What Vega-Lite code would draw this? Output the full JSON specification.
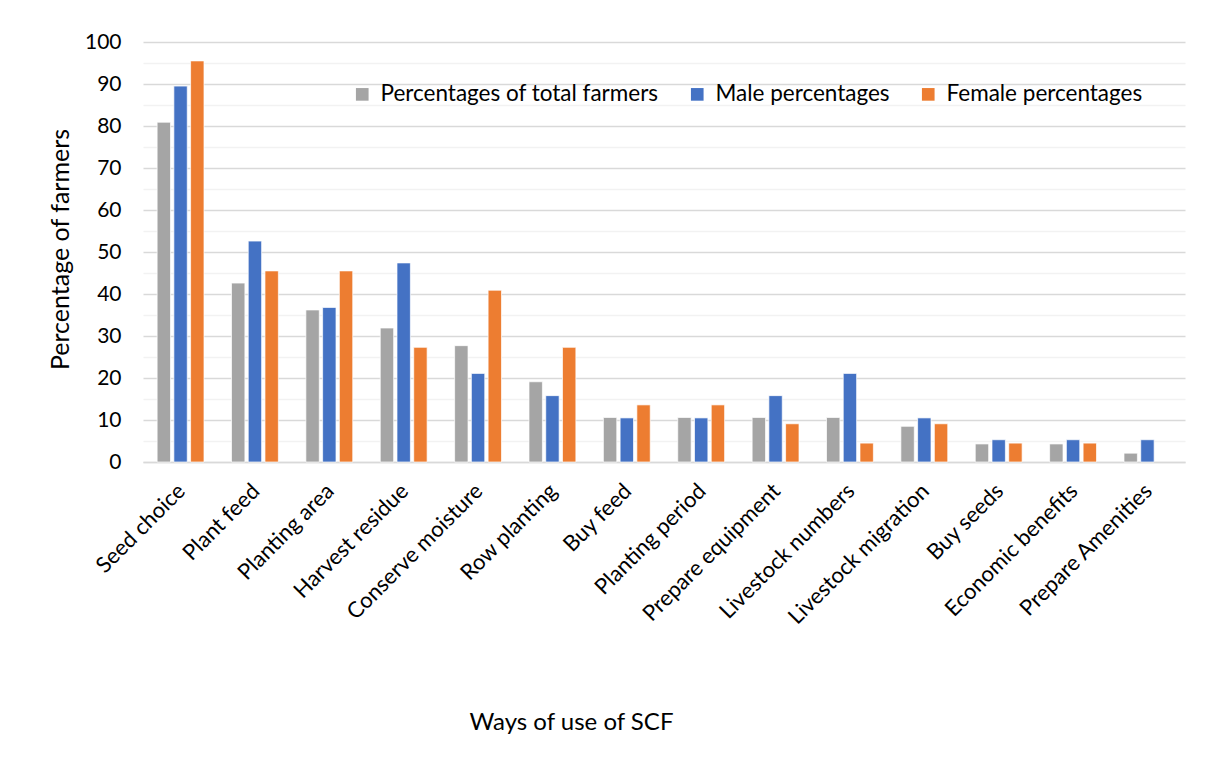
{
  "$schema": "https://vega.github.io/schema/vega-lite/v6.json",
  "autosize": "none",
  "width": 1042,
  "height": 420,
  "padding": {"left": 143, "top": 42, "right": 23, "bottom": 302},
  "background": "white",
  "config": {
    "font": "Lato",
    "view": {"stroke": null},
    "axis": {"labelFont": "Lato", "titleFont": "Lato", "labelColor": "#000000", "titleColor": "#000000", "titleFontWeight": "normal"}
  },
  "data": {"values": [
    {"way": "Seed choice", "series": "Percentages of total farmers", "value": 80.9},
    {"way": "Seed choice", "series": "Male percentages", "value": 89.5},
    {"way": "Seed choice", "series": "Female percentages", "value": 95.5},
    {"way": "Plant feed", "series": "Percentages of total farmers", "value": 42.6},
    {"way": "Plant feed", "series": "Male percentages", "value": 52.6},
    {"way": "Plant feed", "series": "Female percentages", "value": 45.5},
    {"way": "Planting area", "series": "Percentages of total farmers", "value": 36.2},
    {"way": "Planting area", "series": "Male percentages", "value": 36.8},
    {"way": "Planting area", "series": "Female percentages", "value": 45.5},
    {"way": "Harvest residue", "series": "Percentages of total farmers", "value": 31.9},
    {"way": "Harvest residue", "series": "Male percentages", "value": 47.4},
    {"way": "Harvest residue", "series": "Female percentages", "value": 27.3},
    {"way": "Conserve moisture", "series": "Percentages of total farmers", "value": 27.7},
    {"way": "Conserve moisture", "series": "Male percentages", "value": 21.1},
    {"way": "Conserve moisture", "series": "Female percentages", "value": 40.9},
    {"way": "Row planting", "series": "Percentages of total farmers", "value": 19.1},
    {"way": "Row planting", "series": "Male percentages", "value": 15.8},
    {"way": "Row planting", "series": "Female percentages", "value": 27.3},
    {"way": "Buy feed", "series": "Percentages of total farmers", "value": 10.6},
    {"way": "Buy feed", "series": "Male percentages", "value": 10.5},
    {"way": "Buy feed", "series": "Female percentages", "value": 13.6},
    {"way": "Planting period", "series": "Percentages of total farmers", "value": 10.6},
    {"way": "Planting period", "series": "Male percentages", "value": 10.5},
    {"way": "Planting period", "series": "Female percentages", "value": 13.6},
    {"way": "Prepare equipment", "series": "Percentages of total farmers", "value": 10.6},
    {"way": "Prepare equipment", "series": "Male percentages", "value": 15.8},
    {"way": "Prepare equipment", "series": "Female percentages", "value": 9.1},
    {"way": "Livestock numbers", "series": "Percentages of total farmers", "value": 10.6},
    {"way": "Livestock numbers", "series": "Male percentages", "value": 21.1},
    {"way": "Livestock numbers", "series": "Female percentages", "value": 4.5},
    {"way": "Livestock migration", "series": "Percentages of total farmers", "value": 8.5},
    {"way": "Livestock migration", "series": "Male percentages", "value": 10.5},
    {"way": "Livestock migration", "series": "Female percentages", "value": 9.1},
    {"way": "Buy seeds", "series": "Percentages of total farmers", "value": 4.3},
    {"way": "Buy seeds", "series": "Male percentages", "value": 5.3},
    {"way": "Buy seeds", "series": "Female percentages", "value": 4.5},
    {"way": "Economic benefits", "series": "Percentages of total farmers", "value": 4.3},
    {"way": "Economic benefits", "series": "Male percentages", "value": 5.3},
    {"way": "Economic benefits", "series": "Female percentages", "value": 4.5},
    {"way": "Prepare Amenities", "series": "Percentages of total farmers", "value": 2.1},
    {"way": "Prepare Amenities", "series": "Male percentages", "value": 5.3}
  ]},
  "layer": [
    {
      "mark": {"type": "bar", "opacity": 0},
      "encoding": {
        "x": {"field": "way", "type": "nominal", "sort": null,
          "scale": {"paddingInner": 0.37, "paddingOuter": 0.19},
          "axis": {"labelAngle": -45, "labelAlign": "right", "labelBaseline": "top", "labelFontSize": 22, "labelPadding": 18, "labelOffset": -6, "labelLimit": 0, "ticks": false, "domainColor": "#D9D9D9", "domainWidth": 1.5,
            "title": "Ways of use of SCF", "titleFontSize": 24, "titleX": 428, "titleY": 260, "titleAnchor": "middle", "titleBaseline": "middle"}},
        "y": {"field": "value", "type": "quantitative", "scale": {"domain": [0, 100]},
          "axis": {"orient": "right", "values": [5, 15, 25, 35, 45, 55, 65, 75, 85, 95], "grid": true, "gridColor": "#F2F2F2", "gridWidth": 1.3, "labels": false, "ticks": false, "domain": false, "title": null}}
      }
    },
    {
      "mark": {"type": "bar", "stroke": "white", "strokeWidth": 0.7},
      "encoding": {
        "x": {"field": "way", "type": "nominal", "sort": null,
          "scale": {"paddingInner": 0.37, "paddingOuter": 0.19},
          "axis": {"labelAngle": -45, "labelAlign": "right", "labelBaseline": "top", "labelFontSize": 22, "labelPadding": 18, "labelOffset": -6, "labelLimit": 0, "ticks": false, "domainColor": "#D9D9D9", "domainWidth": 1.5,
            "title": "Ways of use of SCF", "titleFontSize": 24, "titleX": 428, "titleY": 260, "titleAnchor": "middle", "titleBaseline": "middle"}},
        "xOffset": {"field": "series", "type": "nominal", "sort": ["Percentages of total farmers", "Male percentages", "Female percentages"], "scale": {"paddingInner": 0.2}},
        "y": {"field": "value", "type": "quantitative", "scale": {"domain": [0, 100]},
          "axis": {"values": [0, 10, 20, 30, 40, 50, 60, 70, 80, 90, 100], "grid": true, "gridColor": "#D9D9D9", "gridWidth": 1.3, "ticks": false, "domain": false, "labelFontSize": 21, "labelPadding": 22,
            "title": "Percentage of farmers", "titleFontSize": 25, "titleX": -83, "titleY": 207, "titleAngle": -90, "titleAnchor": "middle", "titleBaseline": "middle"}},
        "color": {"field": "series", "type": "nominal",
          "scale": {"domain": ["Percentages of total farmers", "Male percentages", "Female percentages"], "range": ["#A5A5A5", "#4472C4", "#ED7D31"]},
          "legend": {"title": null, "orient": "none", "legendX": 208, "legendY": 41, "direction": "horizontal", "symbolType": "square", "symbolSize": 160, "symbolStrokeWidth": 0, "labelFontSize": 22.5, "labelLimit": 0, "labelColor": "#000000", "columnPadding": 27, "labelOffset": 7}}
      }
    }
  ],
  "resolve": {"axis": {"y": "independent"}}
}
